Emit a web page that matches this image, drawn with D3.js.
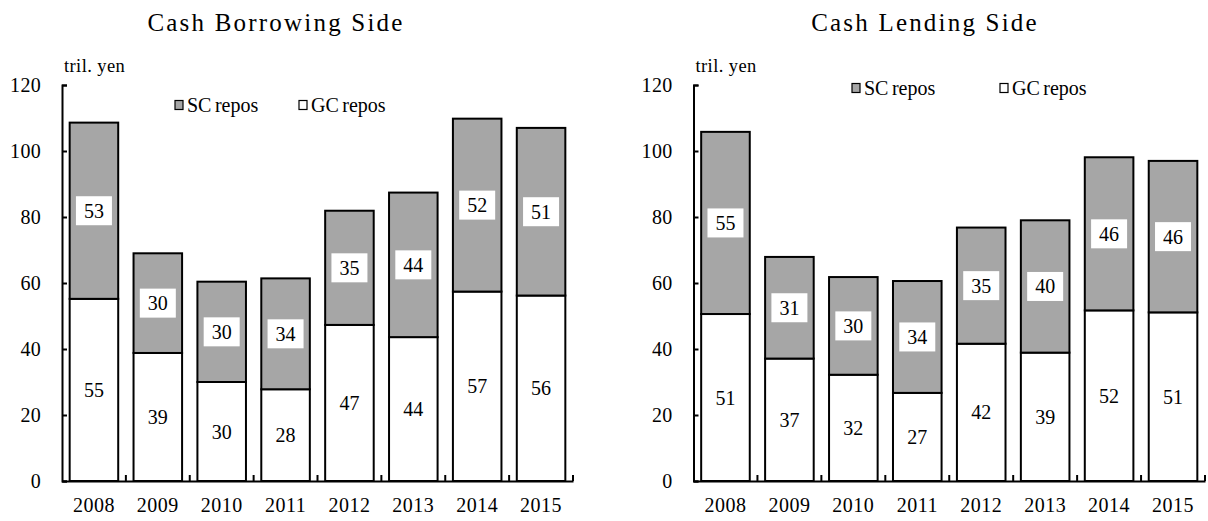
<!DOCTYPE html>
<html>
<head>
<meta charset="utf-8">
<script src="https://cdn.jsdelivr.net/npm/d3@7"></script>
<style>
  body { margin: 0; background: #fff; }
  svg text { font-family: "Liberation Serif", "DejaVu Serif", serif; fill: #000; }
</style>
</head>
<body>
<div id="chart"></div>
<script>
// años y valores (billones de yenes)
const years = ["2008", "2009", "2010", "2011", "2012", "2013", "2014", "2015"];
const borrowGC = [55.2, 38.8, 30.0, 27.8, 47.3, 43.6, 57.4, 56.2];
const borrowSC = [53.4, 30.2, 30.4, 33.6, 34.6, 43.8, 52.4, 50.8];
const lendGC = [50.6, 37.1, 32.2, 26.7, 41.6, 38.9, 51.7, 51.1];
const lendSC = [55.2, 30.8, 29.6, 33.9, 35.2, 40.1, 46.4, 45.9];
const yTicks = [0, 20, 40, 60, 80, 100, 120];
const seriesNames = ["SC repos", "GC repos"];
const titles = ["Cash Borrowing Side", "Cash Lending Side"];
const unitLabel = "tril. yen";

const W = 1208, H = 521;
const grayFill = "#a6a6a6";
const serif = '"Liberation Serif", "DejaVu Serif", serif';

const svg = d3.select("#chart")
    .append("svg")
    .attr("width", W)
    .attr("height", H)
    .attr("font-family", serif);

const yScale = d3.scaleLinear()
    .domain([0, 120])
    .range([481, 85]);

function drawPanel(gc, sc, title, conf) {
    const g = svg.append("g");

    const xScale = d3.scaleBand()
        .domain(years)
        .range([conf.x0, conf.x1])
        .paddingInner(0.24)
        .paddingOuter(0.12);

    const rows = years.map((y, i) => ({ year: y, gc: gc[i], sc: sc[i] }));

    // barras GC (abajo, blancas)
    g.append("g")
        .selectAll("rect")
        .data(rows)
        .enter()
        .append("rect")
        .attr("x", d => xScale(d.year))
        .attr("y", d => yScale(d.gc))
        .attr("width", xScale.bandwidth())
        .attr("height", d => yScale(0) - yScale(d.gc))
        .attr("fill", "#fff")
        .attr("stroke", "#000")
        .attr("stroke-width", 2);

    // barras SC (arriba, grises)
    g.append("g")
        .selectAll("rect")
        .data(rows)
        .enter()
        .append("rect")
        .attr("x", d => xScale(d.year))
        .attr("y", d => yScale(d.gc + d.sc))
        .attr("width", xScale.bandwidth())
        .attr("height", d => yScale(d.gc) - yScale(d.gc + d.sc))
        .attr("fill", grayFill)
        .attr("stroke", "#000")
        .attr("stroke-width", 2);

    // etiquetas SC con caja blanca
    const scLab = g.append("g")
        .selectAll("g")
        .data(rows)
        .enter()
        .append("g")
        .attr("transform", d => `translate(${xScale(d.year) + xScale.bandwidth() / 2},${yScale(d.gc + d.sc / 2)})`);

    scLab.append("rect")
        .attr("x", -18)
        .attr("y", -14.5)
        .attr("width", 36)
        .attr("height", 29)
        .attr("fill", "#fff");

    scLab.append("text")
        .attr("text-anchor", "middle")
        .attr("dy", "0.35em")
        .style("font-family", serif)
        .style("font-size", "20px")
        .text(d => Math.round(d.sc));

    // etiquetas GC
    g.append("g")
        .selectAll("text")
        .data(rows)
        .enter()
        .append("text")
        .attr("x", d => xScale(d.year) + xScale.bandwidth() / 2)
        .attr("y", d => yScale(d.gc / 2))
        .attr("text-anchor", "middle")
        .attr("dy", "0.35em")
        .style("font-family", serif)
        .style("font-size", "20px")
        .text(d => Math.round(d.gc));

    // eje Y
    const yAxis = g.append("g")
        .attr("transform", `translate(${conf.x0},0)`)
        .call(d3.axisLeft(yScale)
            .tickValues(yTicks)
            .tickSizeInner(-5)
            .tickSizeOuter(-5)
            .tickPadding(21));
    yAxis.attr("font-family", serif);
    yAxis.selectAll("path, line").attr("stroke", "#000").attr("stroke-width", 2);
    yAxis.selectAll("text")
        .style("font-family", serif)
        .style("font-size", "20px")
        .style("letter-spacing", "0.3px");

    // eje X
    const xAxis = g.append("g")
        .attr("transform", `translate(0,${yScale(0)})`)
        .call(d3.axisBottom(xScale).tickSize(0).tickPadding(17));
    xAxis.attr("font-family", serif);
    xAxis.select(".domain").attr("stroke", "#000").attr("stroke-width", 2);
    xAxis.selectAll("text")
        .style("font-family", serif)
        .style("font-size", "20px")
        .style("letter-spacing", "0.5px");

    // marcas entre categorías (hacia arriba)
    const step = xScale.step();
    g.append("g")
        .selectAll("line")
        .data(years)
        .enter()
        .append("line")
        .attr("x1", d => xScale(d) + xScale.bandwidth() + step * 0.12)
        .attr("x2", d => xScale(d) + xScale.bandwidth() + step * 0.12)
        .attr("y1", yScale(0))
        .attr("y2", yScale(0) - 6)
        .attr("stroke", "#000")
        .attr("stroke-width", 2);

    // título
    svg.append("text")
        .attr("x", conf.titleX)
        .attr("y", 31)
        .attr("text-anchor", "middle")
        .style("font-family", serif)
        .style("font-size", "25px")
        .style("letter-spacing", "2.2px")
        .text(title);

    // unidad
    svg.append("text")
        .attr("x", conf.x0 + 2)
        .attr("y", 72)
        .style("font-family", serif)
        .style("font-size", "18.5px")
        .style("letter-spacing", "0.4px")
        .text(unitLabel);

    // leyenda
    const leg = svg.append("g")
        .selectAll("g")
        .data(seriesNames)
        .enter()
        .append("g")
        .attr("transform", (d, i) => `translate(${conf.legX[i]},${conf.legY})`);

    leg.append("rect")
        .attr("x", 0)
        .attr("y", -4.5)
        .attr("width", 8)
        .attr("height", 9)
        .attr("fill", (d, i) => i === 0 ? grayFill : "#fff")
        .attr("stroke", "#000")
        .attr("stroke-width", 1.2);

    leg.append("text")
        .attr("x", 12)
        .attr("dy", "0.35em")
        .style("font-family", serif)
        .style("font-size", "20px")
        .style("word-spacing", "-1.5px")
        .text(d => d);
}

drawPanel(borrowGC, borrowSC, titles[0], {
    x0: 62, x1: 573, titleX: 276, legY: 105, legX: [175, 299]
});

drawPanel(lendGC, lendSC, titles[1], {
    x0: 693.5, x1: 1205, titleX: 925, legY: 88, legX: [852, 1000]
});
</script>
</body>
</html>
